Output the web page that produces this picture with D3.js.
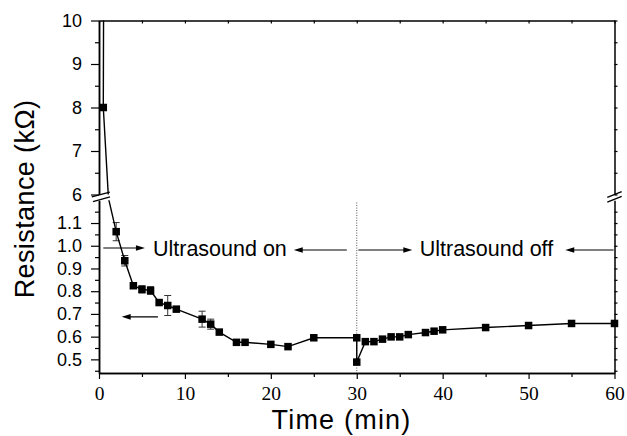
<!DOCTYPE html>
<html><head><meta charset="utf-8">
<script src="https://cdn.jsdelivr.net/npm/d3@7"></script>
<style>body{margin:0;background:#fff}</style>
</head><body>
<svg id="c" width="627" height="436"></svg>
<script>
// ---- data ----
const times = [0.6, 0.5, 1.1, 2, 3, 4, 5, 6, 7, 8, 9, 12, 13, 14, 16, 17, 20, 22, 25, 30, 30, 31, 32, 33, 34, 35, 36, 38, 39, 40, 45, 50, 55, 60];
const resistance = [15, 8.0, 3.0, 1.062, 0.934, 0.824, 0.808, 0.803, 0.75, 0.737, 0.721, 0.677, 0.655, 0.62, 0.575, 0.575, 0.566, 0.556, 0.595, 0.595, 0.488, 0.578, 0.578, 0.589, 0.599, 0.599, 0.609, 0.618, 0.624, 0.63, 0.64, 0.649, 0.658, 0.658];
const errors = [0, 0, 0, 0.04, 0.023, 0, 0.016, 0.017, 0, 0.044, 0, 0.035, 0.022, 0, 0, 0, 0, 0, 0, 0, 0, 0, 0, 0, 0, 0, 0, 0, 0, 0, 0, 0, 0, 0];
const xTicks = [0, 10, 20, 30, 40, 50, 60];
const xMinor = [5, 15, 25, 35, 45, 55];
const yUpperTicks = [6, 7, 8, 9, 10];
const yUpperMinor = [6.5, 7.5, 8.5, 9.5];
const yLowerTicks = [0.5, 0.6, 0.7, 0.8, 0.9, 1.0, 1.1];
const yLowerMinor = [0.45, 0.55, 0.65, 0.75, 0.85, 0.95, 1.05, 1.15];
const switchTime = 30;
const labelTexts = ["Ultrasound on", "Ultrasound off"];
const labelAnchors = [[6.28, 0.955], [37.33, 0.955]];
const arrows = [[0.5, 5.35, 0.99], [28.84, 22.67, 0.981], [30.19, 36.47, 0.981], [59.9, 54.27, 0.981], [6.86, 2.64, 0.687]];
const xTitle = "Time (min)";
const yTitle = "Resistance (kΩ)";

// ---- layout ----
const svg = d3.select("#c");
const X0 = 99, X1 = 614.5;
const yTop = 20.5, yBrkU = 194.5, yBrkL = 200.3, yBot = 373;
const x = d3.scaleLinear().domain([0, 60]).range([X0, X1]);
const yU = d3.scaleLinear().domain([6, 10]).range([yBrkU, yTop]);
const yL = d3.scaleLinear().domain([0.44, 1.2]).range([yBot, yBrkL]);
const y = d3.scaleLinear().domain([0.44, 1.2, 6, 10]).range([yBot, yBrkL, yBrkU, yTop]);
const sans = "'Liberation Sans', Arial, sans-serif";
const serif = "'Liberation Serif', 'Times New Roman', serif";

function styleAxis(g, font, size) {
  g.selectAll("path.domain").attr("stroke", "#000").attr("stroke-width", 1.5);
  g.selectAll(".tick line").attr("stroke", "#000").attr("stroke-width", 1.2);
  g.selectAll("text").attr("font-family", font).attr("font-size", size).attr("fill", "#000");
}

// left axes
const gLU = svg.append("g").attr("transform", `translate(${X0},0)`)
  .call(d3.axisLeft(yU).tickValues(yUpperTicks).tickFormat(d3.format("d")).tickSize(8).tickPadding(9).tickSizeOuter(0));
styleAxis(gLU, sans, 18);
const gLUm = svg.append("g").attr("transform", `translate(${X0},0)`)
  .call(d3.axisLeft(yU).tickValues(yUpperMinor).tickFormat("").tickSize(4).tickSizeOuter(0));
styleAxis(gLUm, sans, 18);
const gLL = svg.append("g").attr("transform", `translate(${X0},0)`)
  .call(d3.axisLeft(yL).tickValues(yLowerTicks).tickFormat(d3.format(".1f")).tickSize(8).tickPadding(9).tickSizeOuter(0));
styleAxis(gLL, sans, 18);
const gLLm = svg.append("g").attr("transform", `translate(${X0},0)`)
  .call(d3.axisLeft(yL).tickValues(yLowerMinor).tickFormat("").tickSize(4).tickSizeOuter(0));
styleAxis(gLLm, sans, 18);

// right axes (inward ticks)
[[yU, yUpperTicks.concat(yUpperMinor)], [yL, yLowerTicks.concat(yLowerMinor)]].forEach(([sc, tv]) => {
  const g = svg.append("g").attr("transform", `translate(${X1},0)`)
    .call(d3.axisLeft(sc).tickValues(tv).tickFormat("").tickSize(-3).tickSizeOuter(0));
  styleAxis(g, sans, 18);
});

// bottom axis
const gB = svg.append("g").attr("transform", `translate(0,${yBot})`)
  .call(d3.axisBottom(x).tickValues(xTicks).tickFormat(d3.format("d")).tickSize(6).tickPadding(7).tickSizeOuter(0));
styleAxis(gB, serif, 19.5);
const gBm = svg.append("g").attr("transform", `translate(0,${yBot})`)
  .call(d3.axisBottom(x).tickValues(xMinor).tickFormat("").tickSize(4).tickSizeOuter(0));
styleAxis(gBm, serif, 19.5);
// top axis
const gT = svg.append("g").attr("transform", `translate(0,${yTop})`)
  .call(d3.axisTop(x).tickValues(xTicks.concat(xMinor)).tickFormat("").tickSize(-3).tickSizeOuter(0));
styleAxis(gT, serif, 19.5);

// break marks
function brk(cx, cy, hw, dy) {
  svg.append("line").attr("x1", cx - hw).attr("y1", cy + dy).attr("x2", cx + hw).attr("y2", cy - dy)
    .attr("stroke", "#000").attr("stroke-width", 1.3);
}
brk(100.8, yBrkU, 9, 2.3); brk(101.5, yBrkL - 1, 8.5, 2.4);
brk(X1, yBrkU, 7.2, 2.8); brk(X1, yBrkL - 1, 7.2, 2.9);

// dotted switch line
svg.append("line").attr("x1", x(switchTime)).attr("x2", x(switchTime))
  .attr("y1", yL(1.19)).attr("y2", yBot)
  .attr("stroke", "#555").attr("stroke-width", 1).attr("stroke-dasharray", "1,1.5");

// clip for data (two panels)
const cp = svg.append("defs").append("clipPath").attr("id", "panels");
cp.append("rect").attr("x", X0).attr("y", yTop).attr("width", X1 - X0 + 6).attr("height", yBrkU - yTop);
cp.append("rect").attr("x", X0).attr("y", yBrkL).attr("width", X1 - X0 + 6).attr("height", yBot - yBrkL);

const pts = times.map((t, i) => ({ t, v: resistance[i], e: errors[i] }));
const gd = svg.append("g").attr("clip-path", "url(#panels)");

// error bars
const eb = pts.filter(d => d.e > 0);
gd.selectAll("line.eb").data(eb).enter().append("line")
  .attr("x1", d => x(d.t)).attr("x2", d => x(d.t))
  .attr("y1", d => y(d.v - d.e)).attr("y2", d => y(d.v + d.e))
  .attr("stroke", "#333").attr("stroke-width", 1);
[1, -1].forEach(s => {
  gd.selectAll(null).data(eb).enter().append("line")
    .attr("x1", d => x(d.t) - 3.5).attr("x2", d => x(d.t) + 3.5)
    .attr("y1", d => y(d.v + s * d.e)).attr("y2", d => y(d.v + s * d.e))
    .attr("stroke", "#333").attr("stroke-width", 1);
});

// line
gd.append("path").datum(pts)
  .attr("d", d3.line().x(d => x(d.t)).y(d => y(d.v)))
  .attr("fill", "none").attr("stroke", "#000").attr("stroke-width", 1.4);

// markers (only those on scale)
const ms = 7.5;
gd.selectAll("rect.m").data(pts.filter(d => (d.v <= 1.2) || (d.v >= 6 && d.v <= 10))).enter().append("rect")
  .attr("x", d => x(d.t) - ms / 2).attr("y", d => y(d.v) - ms / 2)
  .attr("width", ms).attr("height", ms).attr("fill", "#000");

// annotations
labelTexts.forEach((txt, i) => {
  svg.append("text").attr("x", x(labelAnchors[i][0])).attr("y", y(labelAnchors[i][1]))
    .attr("font-family", sans).attr("font-size", 21.5).attr("fill", "#000").text(txt);
});
arrows.forEach(([t0, t1, v]) => {
  const xa = x(t0), xb = x(t1), yy = y(v);
  const dir = Math.sign(xb - xa);
  svg.append("line").attr("x1", xa).attr("x2", xb - dir * 4).attr("y1", yy).attr("y2", yy)
    .attr("stroke", "#000").attr("stroke-width", 1.1);
  svg.append("path").attr("d", `M${xb},${yy}L${xb - dir * 9},${yy - 2.8}L${xb - dir * 9},${yy + 2.8}Z`).attr("fill", "#000");
});

// titles
svg.append("text").attr("x", 341.5).attr("y", 429).attr("text-anchor", "middle")
  .attr("font-family", sans).attr("font-size", 27).attr("letter-spacing", 1.2).attr("fill", "#000").text(xTitle);
svg.append("text").attr("transform", "translate(34,199) rotate(-90)").attr("text-anchor", "middle")
  .attr("font-family", sans).attr("font-size", 27).attr("letter-spacing", 0.4).attr("fill", "#000").text(yTitle);
</script></body></html>
